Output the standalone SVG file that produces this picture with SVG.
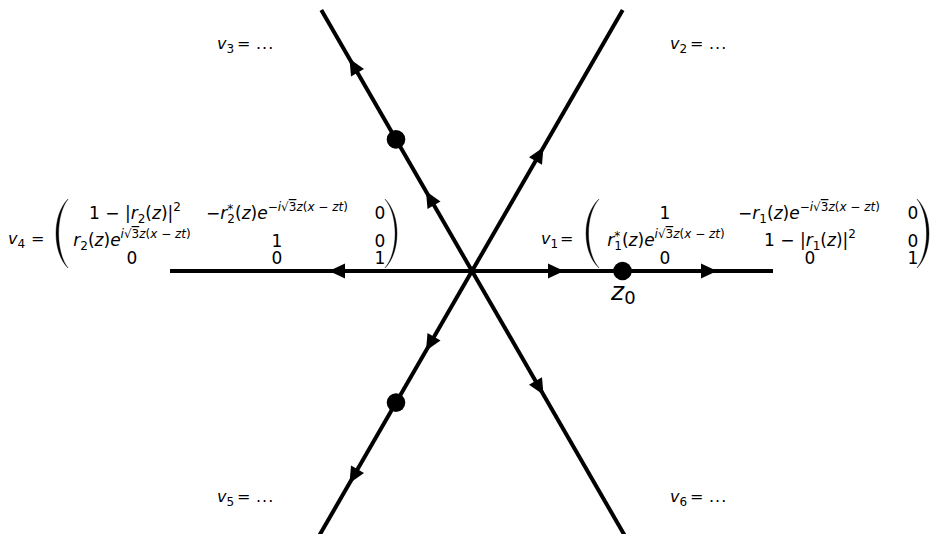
<svg xmlns="http://www.w3.org/2000/svg" width="932" height="534" viewBox="0 0 932 534">
<style>
text{font-family:"DejaVu Sans","Liberation Sans",sans-serif;font-size:16px;fill:#000}
.mx{font-size:17px}
.i{font-style:italic}
.s{font-size:12px}
.ov{text-decoration:overline}
.ln{stroke:#000;stroke-width:4;fill:none}
.par{fill:#000;stroke:#000;stroke-width:0.4}
.dot{fill:#000}
</style>
<defs>
<path id="ah" d="M0,0 L-16,-7.5 L-16,7.5 Z" fill="#000"/>
</defs>
<rect width="932" height="534" fill="#fff"/>

<g id="connectors">
<line class="ln" x1="170" y1="271" x2="773" y2="271"/>
<line class="ln" x1="321.3" y1="10" x2="627.3" y2="540"/>
<line class="ln" x1="622.7" y1="10" x2="316.7" y2="540"/>
<use href="#ah" transform="translate(426,191.3) rotate(-120)"/>
<use href="#ah" transform="translate(349.5,58.8) rotate(-120)"/>
<use href="#ah" transform="translate(543.5,147.2) rotate(-60)"/>
<use href="#ah" transform="translate(426,350.7) rotate(120)"/>
<use href="#ah" transform="translate(349.5,483.2) rotate(120)"/>
<use href="#ah" transform="translate(543.5,394.8) rotate(60)"/>
<use href="#ah" transform="translate(564,271)"/>
<use href="#ah" transform="translate(717,271)"/>
<use href="#ah" transform="translate(329,271) rotate(180)"/>
</g>

<g id="points">
<circle class="dot" cx="396" cy="139.4" r="9.3"/>
<circle class="dot" cx="396" cy="402.6" r="9.3"/>
<circle class="dot" cx="622.5" cy="271" r="9.3"/>
</g>

<g id="z0-label">
<text x="611" y="300" style="font-size:25px"><tspan class="i">z</tspan><tspan dy="4" style="font-size:18px">0</tspan></text>
</g>

<g id="v2-label"><text x="670" y="49"><tspan class="i">v</tspan><tspan class="s" dy="4">2</tspan><tspan x="690" y="49">=</tspan><tspan x="709" letter-spacing="1">...</tspan></text></g>
<g id="v3-label"><text x="217" y="49"><tspan class="i">v</tspan><tspan class="s" dy="4">3</tspan><tspan x="237" y="49">=</tspan><tspan x="256" letter-spacing="1">...</tspan></text></g>
<g id="v5-label"><text x="217" y="502"><tspan class="i">v</tspan><tspan class="s" dy="4">5</tspan><tspan x="237" y="502">=</tspan><tspan x="256" letter-spacing="1">...</tspan></text></g>
<g id="v6-label"><text x="670" y="502"><tspan class="i">v</tspan><tspan class="s" dy="4">6</tspan><tspan x="690" y="502">=</tspan><tspan x="709" letter-spacing="1">...</tspan></text></g>

<g id="v4-label">
<text x="8" y="244"><tspan class="i">v</tspan><tspan class="s" dy="4">4</tspan><tspan x="31" y="244">=</tspan></text>
<path class="par" d="M68,199 C52,215 52,252 68,268 C55.5,252 55.5,215 68,199 Z"/>
<path class="par" d="M385,199 C401,215 401,252 385,268 C398.5,252 398.5,215 385,199 Z"/>
<text class="mx" x="135" y="219" text-anchor="middle">1 − |<tspan class="i">r</tspan><tspan class="s" dy="4">2</tspan><tspan dy="-4">(</tspan><tspan class="i">z</tspan>)|<tspan class="s" dy="-8">2</tspan></text>
<text class="mx" x="277" y="219" text-anchor="middle">−<tspan class="i">r</tspan><tspan class="s" dy="-6">*</tspan><tspan class="s" dx="-6" dy="10">2</tspan><tspan dy="-4">(</tspan><tspan class="i">z</tspan>)<tspan class="i">e</tspan><tspan dy="-8" class="s">−<tspan class="i">i</tspan>√<tspan class="ov">3</tspan><tspan class="i">z</tspan>(<tspan class="i">x</tspan> − <tspan class="i">zt</tspan>)</tspan></text>
<text class="mx" x="380" y="219" text-anchor="middle">0</text>
<text class="mx" x="132" y="246" text-anchor="middle"><tspan class="i">r</tspan><tspan class="s" dy="4">2</tspan><tspan dy="-4">(</tspan><tspan class="i">z</tspan>)<tspan class="i">e</tspan><tspan dy="-8" class="s"><tspan class="i">i</tspan>√<tspan class="ov">3</tspan><tspan class="i">z</tspan>(<tspan class="i">x</tspan> − <tspan class="i">zt</tspan>)</tspan></text>
<text class="mx" x="277" y="247" text-anchor="middle">1</text>
<text class="mx" x="380" y="247" text-anchor="middle">0</text>
<text class="mx" x="132" y="264" text-anchor="middle">0</text>
<text class="mx" x="277" y="264" text-anchor="middle">0</text>
<text class="mx" x="380" y="264" text-anchor="middle">1</text>
</g>

<g id="v1-label">
<text x="541" y="244"><tspan class="i">v</tspan><tspan class="s" dy="4">1</tspan><tspan x="560" y="244">=</tspan></text>
<path class="par" d="M599,199 C581.7,215 581.7,252 599,268 C585,252 585,215 599,199 Z"/>
<path class="par" d="M917,199 C933,215 933,252 917,268 C929.7,252 929.7,215 917,199 Z"/>
<text class="mx" x="665" y="219" text-anchor="middle">1</text>
<text class="mx" x="809" y="219" text-anchor="middle">−<tspan class="i">r</tspan><tspan class="s" dy="4">1</tspan><tspan dy="-4">(</tspan><tspan class="i">z</tspan>)<tspan class="i">e</tspan><tspan dy="-8" class="s">−<tspan class="i">i</tspan>√<tspan class="ov">3</tspan><tspan class="i">z</tspan>(<tspan class="i">x</tspan> − <tspan class="i">zt</tspan>)</tspan></text>
<text class="mx" x="913" y="219" text-anchor="middle">0</text>
<text class="mx" x="666" y="246" text-anchor="middle"><tspan class="i">r</tspan><tspan class="s" dy="-6">*</tspan><tspan class="s" dx="-6" dy="10">1</tspan><tspan dy="-4">(</tspan><tspan class="i">z</tspan>)<tspan class="i">e</tspan><tspan dy="-8" class="s"><tspan class="i">i</tspan>√<tspan class="ov">3</tspan><tspan class="i">z</tspan>(<tspan class="i">x</tspan> − <tspan class="i">zt</tspan>)</tspan></text>
<text class="mx" x="810" y="246" text-anchor="middle">1 − |<tspan class="i">r</tspan><tspan class="s" dy="4">1</tspan><tspan dy="-4">(</tspan><tspan class="i">z</tspan>)|<tspan class="s" dy="-8">2</tspan></text>
<text class="mx" x="913" y="247" text-anchor="middle">0</text>
<text class="mx" x="665" y="264" text-anchor="middle">0</text>
<text class="mx" x="810" y="264" text-anchor="middle">0</text>
<text class="mx" x="913" y="264" text-anchor="middle">1</text>
</g>
</svg>
